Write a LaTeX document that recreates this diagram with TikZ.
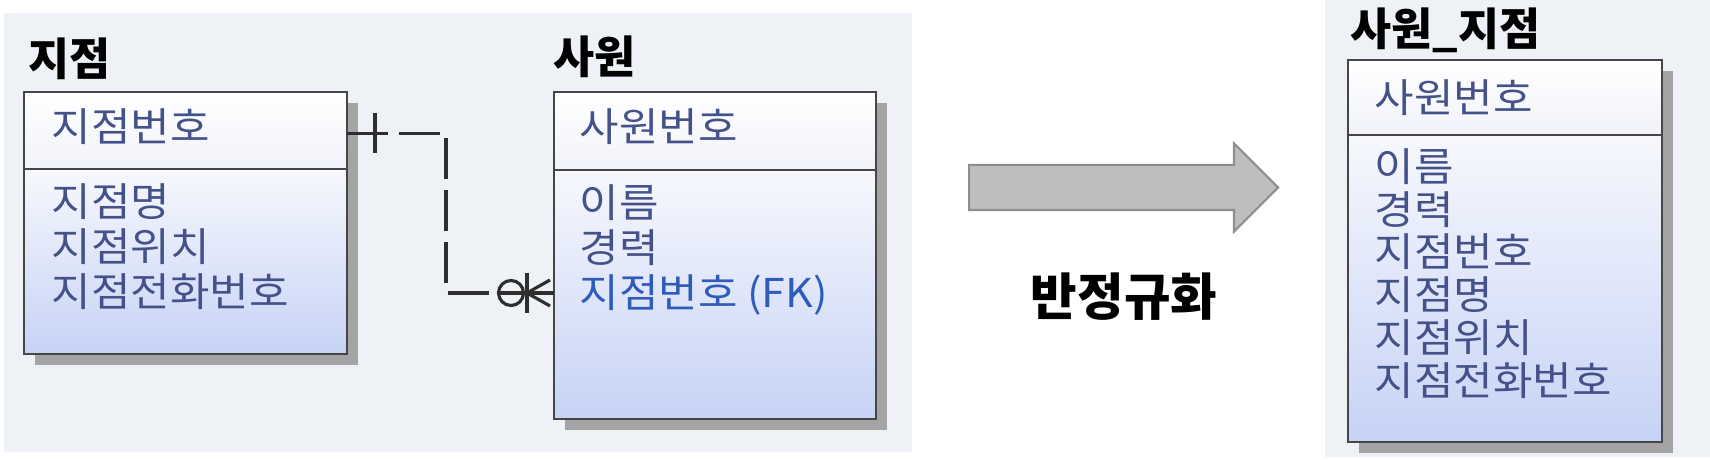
\documentclass[tikz,border=0pt]{standalone}
\usepackage{fontspec}
\setmainfont{Noto Sans CJK KR}
\newfontfamily\attrfont[FakeStretch=1.08]{Noto Sans CJK KR}
\usetikzlibrary{shapes.arrows, shadows, calc, positioning}

\definecolor{panelbg}{HTML}{EEF2F6}
\definecolor{boxline}{HTML}{464646}
\definecolor{headbot}{HTML}{F1F3FA}
\definecolor{bodytop}{HTML}{F7F8FD}
\definecolor{bodybot}{HTML}{C6D3F5}
\definecolor{attrtext}{HTML}{45528A}
\definecolor{fktext}{HTML}{2F5CBA}
\definecolor{shadowgray}{HTML}{A4A4A4}
\definecolor{arrowfill}{HTML}{BEBEBE}
\definecolor{arrowline}{HTML}{8E8E8E}
\definecolor{relcolor}{HTML}{2E2E2E}

\tikzset{
  panel/.style={fill=panelbg, draw=none},
  etitle/.style={font=\bfseries\fontsize{12.7}{15}\selectfont, anchor=west, inner sep=0pt},
  entbox/.style={rectangle, draw=boxline, line width=0.8pt, inner sep=0pt, outer sep=0pt,
    drop shadow={shadow xshift=0.11cm, shadow yshift=-0.11cm, fill=shadowgray, opacity=1}},
  keybox/.style={entbox, top color=white, bottom color=headbot},
  attrbox/.style={entbox, top color=bodytop, bottom color=bodybot},
  attr/.style={font=\attrfont\fontsize{11.3}{12.8}\selectfont, text=attrtext, anchor=north west, align=left, inner sep=0pt},
  relline/.style={draw=relcolor, line width=0.9pt},
}

\begin{document}
\begin{tikzpicture}
    \useasboundingbox (0,0) rectangle (17.1,-4.6);
    % Sfondi
    \fill[panel] (0.04,-0.13) rectangle (9.12,-4.52);
    \fill[panel] (13.25,0) rectangle (17.1,-4.57);

    % Entita 1: 지점
    \node[etitle] (jt) at (0.28,-0.59) {지점};
    \node[keybox, minimum width=3.23cm, minimum height=0.77cm] (jh) at (1.855,-1.305) {};
    \node[attrbox, minimum width=3.23cm, minimum height=1.85cm, below=0pt of jh] (jb) {};
    \node[attr, anchor=west] (jk) at ($(jh.west)+(0.27,0.04)$) {지점번호};
    \node[attr] (ja) at ($(jb.north west)+(0.27,-0.14)$) {지점명\\지점위치\\지점전화번호};

    % Entita 2: 사원
    \node[etitle] (st) at (5.53,-0.57) {사원};
    \node[keybox, minimum width=3.22cm, minimum height=0.78cm] (sh) at (7.15,-1.31) {};
    \node[attrbox, minimum width=3.22cm, minimum height=2.49cm, below=0pt of sh] (sb) {};
    \node[attr, anchor=west] (sk) at ($(sh.west)+(0.25,0.045)$) {사원번호};
    \node[attr] (sa) at ($(sb.north west)+(0.25,-0.14)$) {이름\\경력\\\textcolor{fktext}{지점번호 (FK)}};

    % Relazione 지점 -- 사원
    \coordinate (rs) at ($(jh.east)+(0,-0.03)$);
    \coordinate (rk) at ($(rs)+(0.99,0)$);
    \coordinate (fk) at ($(sb.north west)+(0,-1.23)$);
    \draw[relline] (rs) -- ++(0.41,0);
    \draw[relline] ($(rs)+(0.28,0.2)$) -- ++(0,-0.4);
    \draw[relline, dash pattern=on 0.41cm off 0.11cm, dash phase=0.41cm]
        ($(rs)+(0.41,0)$) -- (rk) -- (rk |- fk) -- ($(fk)+(-0.64,0)$);
    \draw[relline] ($(fk)+(-0.56,0)$) -- (fk);
    \draw[relline] ($(fk)+(-0.43,0)$) circle (0.125);
    \draw[relline] ($(fk)+(-0.27,0.2)$) -- ++(0,-0.4);
    \draw[relline] ($(fk)+(-0.04,0.13)$) -- ($(fk)+(-0.27,0)$) -- ($(fk)+(-0.04,-0.13)$);

    % Freccia
    \node[single arrow, fill=arrowfill, draw=arrowline, line width=0.6pt, inner sep=0pt,
          minimum height=3.09cm, single arrow head extend=0.215cm,
          anchor=tail] (denorm) at (9.68,-1.875) {\rule{0pt}{0.43cm}};
    \node[font=\bfseries\fontsize{14.4}{17}\selectfont] (denormlbl) at (11.24,-2.97) {반정규화};

    % Entita 3: 사원_지점
    \node[etitle] (sjt) at (13.50,-0.30) {사원\_지점};
    \node[keybox, minimum width=3.14cm, minimum height=0.75cm] (sjh) at (15.05,-0.975) {};
    \node[attrbox, minimum width=3.14cm, minimum height=3.07cm, below=0pt of sjh] (sjb) {};
    \node[attr, anchor=west] (sjk) at ($(sjh.west)+(0.26,0)$) {사원번호};
    \node[attr, font=\attrfont\fontsize{11.3}{12.15}\selectfont] (sja) at ($(sjb.north west)+(0.26,-0.13)$)
        {이름\\경력\\지점번호\\지점명\\지점위치\\지점전화번호};
\end{tikzpicture}
\end{document}
